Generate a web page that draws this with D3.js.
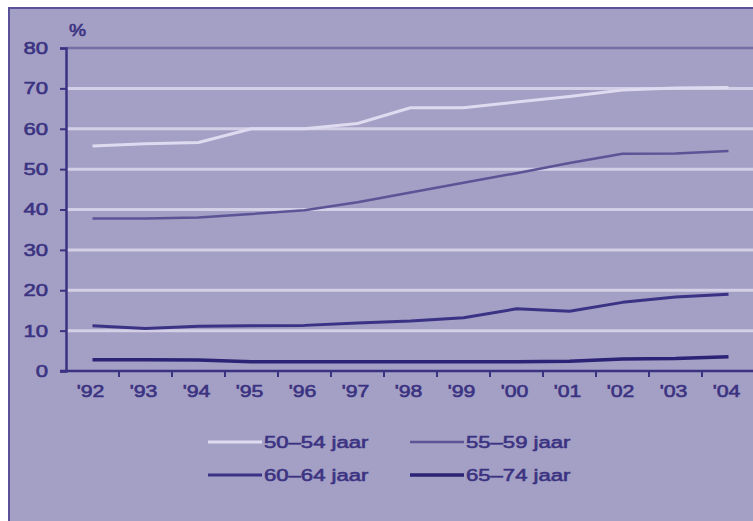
<!DOCTYPE html>
<html>
<head>
  <script src="https://cdnjs.cloudflare.com/ajax/libs/d3/7.8.5/d3.min.js"></script>
  <style>
    body { margin: 0; background: #fff; }
    text { font-family: "Liberation Sans", Arial, sans-serif; fill: #3b3382; }
  </style>
</head>
<body>
  <div id="chart"></div>

  <script>
    const years = ["'92", "'93", "'94", "'95", "'96", "'97", "'98", "'99", "'00", "'01", "'02", "'03", "'04"];
    const yTicks = [0, 10, 20, 30, 40, 50, 60, 70, 80];

    const age5054 = [55.7, 56.3, 56.6, 60.0, 60.0, 61.3, 65.2, 65.2, 66.6, 68.0, 69.6, 70.1, 70.2];
    const age5559 = [37.8, 37.8, 38.0, 38.9, 39.8, 41.8, 44.2, 46.6, 49.0, 51.5, 53.8, 53.9, 54.5];
    const age6064 = [11.2, 10.5, 11.1, 11.2, 11.3, 11.9, 12.4, 13.2, 15.4, 14.8, 17.0, 18.3, 19.0];
    const age6574 = [2.8, 2.8, 2.7, 2.3, 2.3, 2.3, 2.3, 2.3, 2.3, 2.4, 3.0, 3.1, 3.5];

    const seriesNames = ['50–54 jaar', '55–59 jaar', '60–64 jaar', '65–74 jaar'];
    const seriesValues = [age5054, age5559, age6064, age6574];
    const seriesColors = ['#dedaf0', '#5c5496', '#3a3285', '#2b2375'];
    const seriesWidths = [3, 2.5, 3, 3.5];

    const W = 753, H = 521;
    const plotLeft = 66, plotBottom = 371, plotTop = 48;

    const svg = d3.select('#chart').append('svg')
      .attr('width', W)
      .attr('height', H);

    // frame
    svg.append('rect')
      .attr('x', 9).attr('y', 8)
      .attr('width', W + 10).attr('height', H + 10)
      .attr('fill', '#a49fc4')
      .attr('stroke', '#5a5298')
      .attr('stroke-width', 2);

    const x = d3.scaleBand()
      .domain(years)
      .range([plotLeft, plotLeft + 53 * 13])
      .paddingInner(0);

    const y = d3.scaleLinear()
      .domain([0, 80])
      .range([plotBottom, plotTop]);

    const cx = d => x(d) + x.bandwidth() / 2;

    // widen the text a bit, the original font runs wide
    function widen(sel, f) {
      sel.each(function() {
        const w = this.getComputedTextLength();
        d3.select(this).attr('textLength', w * f).attr('lengthAdjust', 'spacingAndGlyphs');
      });
    }

    // gridlines
    svg.append('g')
      .selectAll('line')
      .data(yTicks.filter(t => t > 0))
      .join('line')
      .attr('x1', plotLeft).attr('x2', W)
      .attr('y1', d => y(d)).attr('y2', d => y(d))
      .attr('stroke', d => d === 80 ? '#756da6' : '#d3cfe6')
      .attr('stroke-width', d => d === 80 ? 2.5 : 3);

    // y axis
    const yAxis = svg.append('g')
      .attr('transform', `translate(${plotLeft},0)`)
      .call(d3.axisLeft(y).tickValues(yTicks).tickSize(6).tickPadding(12));
    yAxis.select('.domain').attr('stroke', '#3b3382').attr('stroke-width', 2.5);
    yAxis.selectAll('.tick line').attr('stroke', '#3b3382').attr('stroke-width', 2);
    yAxis.selectAll('.tick text')
      .attr('font-size', 17).attr('fill', '#3b3382').attr('stroke', '#3b3382').attr('stroke-width', 0.6)
      .call(widen, 1.3);

    // x axis
    const xAxis = svg.append('g')
      .attr('transform', `translate(0,${plotBottom})`)
      .call(d3.axisBottom(x).tickSize(0).tickPadding(14));
    xAxis.select('.domain').remove();
    xAxis.selectAll('.tick text')
      .attr('font-size', 17).attr('fill', '#3b3382').attr('stroke', '#3b3382').attr('stroke-width', 0.6)
      .attr('dx', -2)
      .call(widen, 1.25);

    svg.append('line')
      .attr('x1', plotLeft - 6).attr('x2', W)
      .attr('y1', plotBottom).attr('y2', plotBottom)
      .attr('stroke', '#3b3382').attr('stroke-width', 2.5);

    svg.append('g')
      .selectAll('line')
      .data(years.slice(1))
      .join('line')
      .attr('x1', d => x(d)).attr('x2', d => x(d))
      .attr('y1', plotBottom).attr('y2', plotBottom + 6)
      .attr('stroke', '#3b3382').attr('stroke-width', 2);

    svg.append('text')
      .attr('x', 69).attr('y', 36)
      .attr('font-size', 16)
      .attr('stroke', '#3b3382').attr('stroke-width', 0.6)
      .text('%')
      .call(widen, 1.2);

    // lines
    const line = d3.line()
      .x((d, i) => cx(years[i]))
      .y(d => y(d));

    svg.append('g')
      .selectAll('path')
      .data(seriesValues)
      .join('path')
      .attr('d', d => line(d))
      .attr('fill', 'none')
      .attr('stroke', (d, i) => seriesColors[i])
      .attr('stroke-width', (d, i) => seriesWidths[i])
      .attr('stroke-linejoin', 'round');

    // legend
    const legend = svg.append('g')
      .selectAll('g')
      .data(seriesNames)
      .join('g')
      .attr('transform', (d, i) => `translate(${i % 2 === 0 ? 208 : 410},${i < 2 ? 442 : 475})`);

    legend.append('line')
      .attr('x1', 0).attr('x2', 54)
      .attr('stroke', (d, i) => seriesColors[i])
      .attr('stroke-width', (d, i) => seriesWidths[i]);

    legend.append('text')
      .attr('x', 56).attr('dy', '0.35em')
      .attr('font-size', 17)
      .attr('stroke', '#3b3382').attr('stroke-width', 0.6)
      .text(d => d)
      .call(widen, 1.3);
  </script>
</body>
</html>
